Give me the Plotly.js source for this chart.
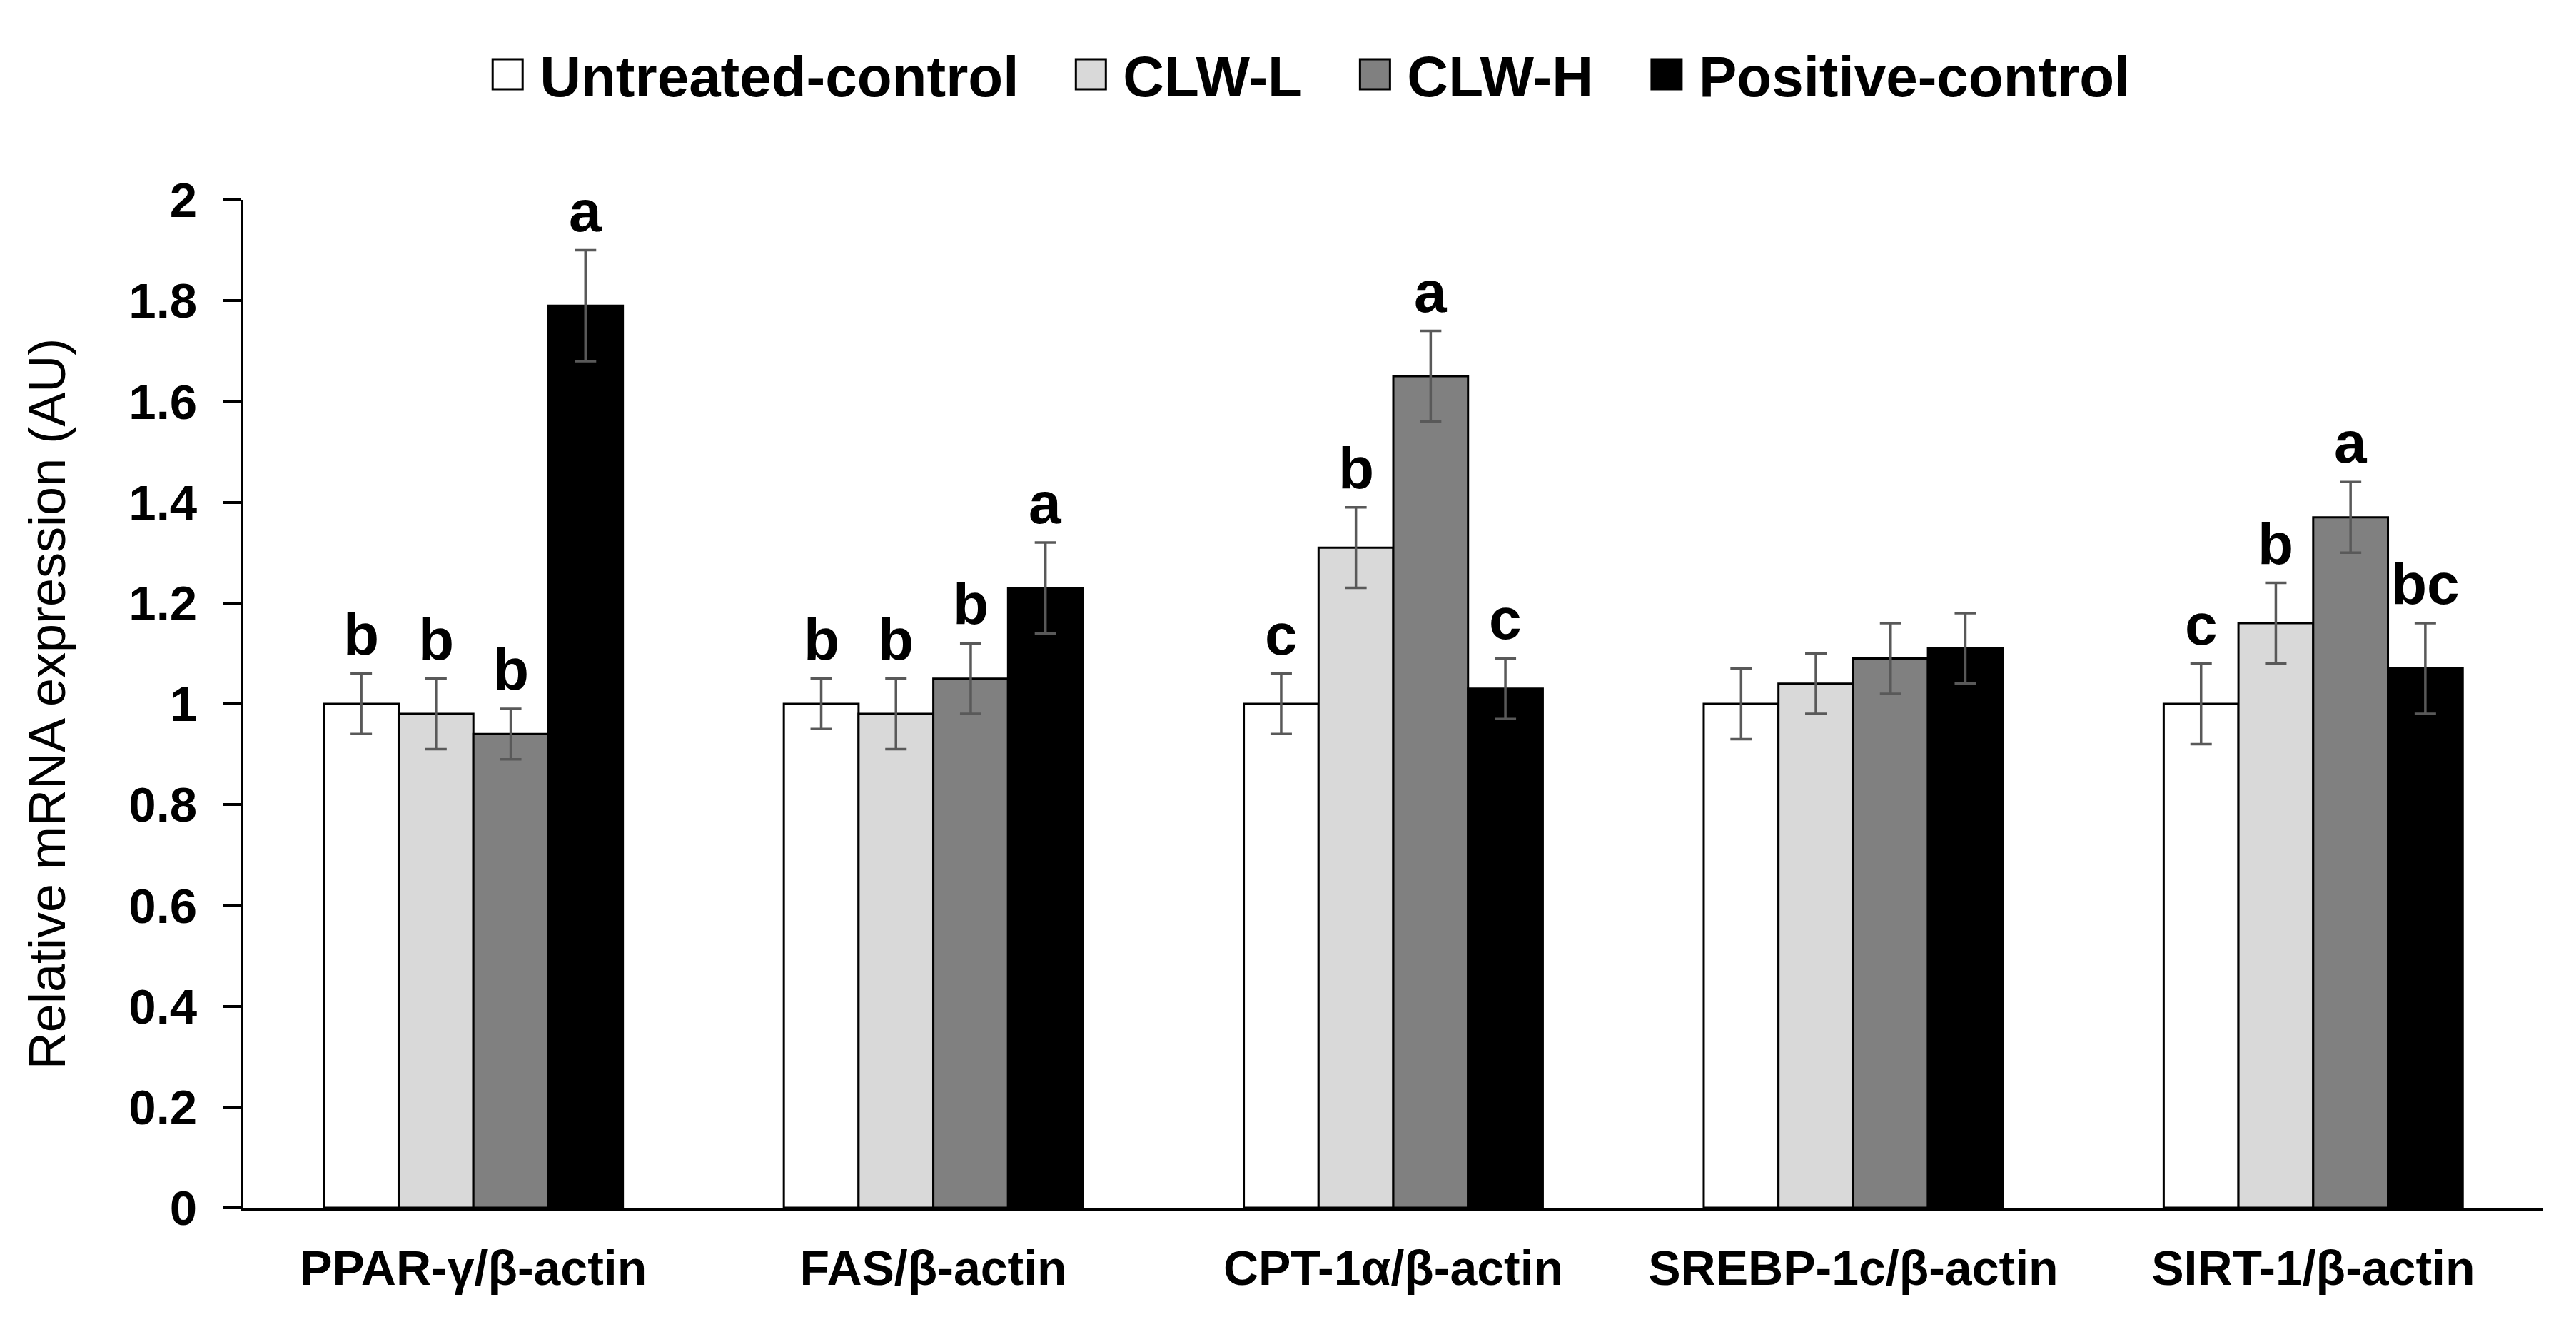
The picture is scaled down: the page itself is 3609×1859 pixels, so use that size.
<!DOCTYPE html>
<html>
<head>
<meta charset="utf-8">
<script src="https://cdn.plot.ly/plotly-3.0.1.min.js"></script>
<style>
html,body{margin:0;padding:0;background:#ffffff;}
#chart{width:3609px;height:1859px;}
</style>
</head>
<body>
<div id="chart"></div>
<script>
// ---- data ----
const categories = ['PPAR-γ/β-actin', 'FAS/β-actin', 'CPT-1α/β-actin', 'SREBP-1c/β-actin', 'SIRT-1/β-actin'];
const seriesNames = ['Untreated-control', 'CLW-L', 'CLW-H', 'Positive-control'];

const untreated = [1.00, 1.00, 1.00, 1.00, 1.00];
const clwL      = [0.98, 0.98, 1.31, 1.04, 1.16];
const clwH      = [0.94, 1.05, 1.65, 1.09, 1.37];
const positive  = [1.79, 1.23, 1.03, 1.11, 1.07];

const untreatedErr = [0.06, 0.05, 0.06, 0.07, 0.08];
const clwLErr      = [0.07, 0.07, 0.08, 0.06, 0.08];
const clwHErr      = [0.05, 0.07, 0.09, 0.07, 0.07];
const positiveErr  = [0.11, 0.09, 0.06, 0.07, 0.09];

const untreatedLetters = ['b', 'b', 'c', '', 'c'];
const clwLLetters      = ['b', 'b', 'b', '', 'b'];
const clwHLetters      = ['b', 'b', 'a', '', 'a'];
const positiveLetters  = ['a', 'a', 'c', '', 'bc'];

const yTickVals  = [0, 0.2, 0.4, 0.6, 0.8, 1, 1.2, 1.4, 1.6, 1.8, 2];
const yTickTexts = ['0', '0.2', '0.4', '0.6', '0.8', '1', '1.2', '1.4', '1.6', '1.8', '2'];

// ---- styling ----
const FONT = 'Liberation Sans, Arial, sans-serif';
const fillColors = ['#ffffff', '#d9d9d9', '#808080', '#000000'];
const values = [untreated, clwL, clwH, positive];
const errors = [untreatedErr, clwLErr, clwHErr, positiveErr];
const letters = [untreatedLetters, clwLLetters, clwHLetters, positiveLetters];
const legendIds = ['legend', 'legend2', 'legend3', 'legend4'];
const legendLeft = [0.1846, 0.4110, 0.5213, 0.6345];   // container fractions of each legend entry

const BARGAP = 0.35;
const nSeries = seriesNames.length;
const barW = (1 - BARGAP) / nSeries;

const traces = seriesNames.map((name, s) => ({
  type: 'bar',
  name: name,
  legend: legendIds[s],
  x: categories,
  y: values[s],
  marker: {color: fillColors[s], line: {color: '#000000', width: 3}},
  error_y: {type: 'data', array: errors[s], visible: true, color: '#595959', thickness: 3.5, width: 15},
  hoverinfo: 'x+y+name'
}));

const annotations = [];
seriesNames.forEach((name, s) => {
  categories.forEach((c, i) => {
    const t = letters[s][i];
    if (!t) return;
    annotations.push({
      xref: 'x', yref: 'y',
      x: i + (s - (nSeries - 1) / 2) * barW,
      y: values[s][i] + errors[s][i],
      text: '<b>' + t + '</b>',
      showarrow: false,
      xanchor: 'center', yanchor: 'bottom',
      yshift: 8,
      font: {family: FONT, size: 82, color: '#000000'}
    });
  });
});

const layout = {
  width: 3609, height: 1859,
  paper_bgcolor: '#ffffff', plot_bgcolor: '#ffffff',
  margin: {l: 341, r: 46, t: 280, b: 167, pad: 0},
  barmode: 'group', bargap: BARGAP, bargroupgap: 0,
  font: {family: FONT, color: '#000000'},
  showlegend: true,
  xaxis: {
    type: 'category',
    showline: true, linecolor: '#000000', linewidth: 4,
    ticks: '', showgrid: false, zeroline: false,
    tickfont: {family: FONT, size: 68, color: '#000000', weight: 'bold'},
    ticklabelstandoff: 22
  },
  yaxis: {
    range: [0, 2],
    tickvals: yTickVals, ticktext: yTickTexts,
    showline: true, linecolor: '#000000', linewidth: 4,
    ticks: 'outside', ticklen: 24, tickwidth: 4, tickcolor: '#000000',
    showgrid: false, zeroline: false,
    tickfont: {family: FONT, size: 69, color: '#000000', weight: 'bold'},
    ticklabelstandoff: 23,
    title: {text: 'Relative mRNA expression (AU)', standoff: 66,
            font: {family: FONT, size: 72, color: '#000000'}}
  },
  annotations: annotations
};

legendIds.forEach((id, s) => {
  layout[id] = {
    orientation: 'h',
    xref: 'container', yref: 'container',
    x: legendLeft[s], xanchor: 'left',
    y: 0.944, yanchor: 'middle',
    font: {family: FONT, size: 80, color: '#000000', weight: 'bold'},
    itemwidth: 80,
    bgcolor: 'rgba(0,0,0,0)', borderwidth: 0
  };
});

Plotly.newPlot('chart', traces, layout, {displayModeBar: false, staticPlot: true}).then(gd => {
  gd.querySelectorAll('.legendpoints path').forEach(p => {
    const t = p.getAttribute('transform') || '';
    p.setAttribute('transform', t + ' scale(3.5)');
    p.style.vectorEffect = 'non-scaling-stroke';
    p.style.strokeWidth = '3px';
    p.style.stroke = '#000000';
  });
});
</script>
</body>
</html>
